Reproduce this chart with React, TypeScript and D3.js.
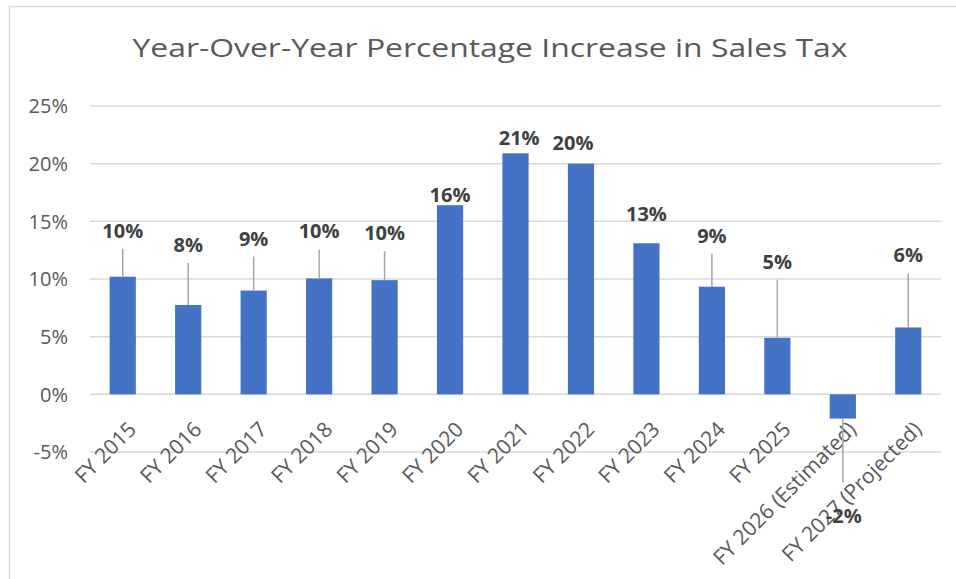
import React from "react";
import * as d3 from "d3";

const categories = [
  "FY 2015", "FY 2016", "FY 2017", "FY 2018", "FY 2019", "FY 2020", "FY 2021",
  "FY 2022", "FY 2023", "FY 2024", "FY 2025", "FY 2026 (Estimated)", "FY 2027 (Projected)",
];
const values = [10.2, 7.75, 9.0, 10.05, 9.9, 16.4, 20.9, 20.0, 13.1, 9.33, 4.9, -2.1, 5.8];
const valueLabels = ["10%", "8%", "9%", "10%", "10%", "16%", "21%", "20%", "13%", "9%", "5%", "-2%", "6%"];
const yTicks = [-5, 0, 5, 10, 15, 20, 25];
const title = "Year-Over-Year Percentage Increase in Sales Tax";

// label placement (manually moved data labels, in px relative to bar end)
const labelLift = [39, 53, 45, 40, 40, 3, 8.7, 14, 22, 44, 69, -104, 65];
const labelShift = [0, 0, 0, 0, 0, 0, 3.7, -8, 0, 0, 0, 1, 0];

const W = 956;
const H = 579;
const FONT = "'Open Sans', sans-serif";

export default function App() {
  const x = d3.scaleBand<string>().domain(categories).range([90, 941]).paddingInner(0.6).paddingOuter(0.3);
  const y = d3.scaleLinear().domain([-5, 25]).range([452, 106]);
  const y0 = y(0);

  return (
    <svg width={W} height={H} style={{ position: "absolute", left: 0, top: 0 }} fontFamily={FONT}>
      <rect x={0} y={0} width={W} height={H} fill="#fff" />
      <path d={`M9.5,${H} V6.5 H${W}`} fill="none" stroke="#d9d9d9" strokeWidth={1.5} />
      <text
        x={490}
        y={57}
        textAnchor="middle"
        fontSize={26}
        fill="#595959"
        textLength={715}
        lengthAdjust="spacingAndGlyphs"
      >
        {title}
      </text>

      {yTicks.map((t) => (
        <g key={t}>
          <line x1={90} x2={941} y1={y(t)} y2={y(t)} stroke="#d9d9d9" strokeWidth={1.5} />
          <text x={68} y={y(t)} dy="0.36em" textAnchor="end" fontSize={20} fill="#595959">{`${t}%`}</text>
        </g>
      ))}

      {categories.map((c, i) => {
        const v = values[i];
        const bx = x(c)!;
        const top = Math.min(y(v), y0);
        const h = Math.abs(y(v) - y0);
        return <rect key={c} x={bx} y={top} width={x.bandwidth()} height={h} fill="#4472C4" />;
      })}

      {categories.map((c, i) => {
        const cx = x(c)! + x.bandwidth() / 2;
        return (
          <text
            key={c}
            transform={`translate(${cx + 4},${420}) rotate(-45)`}
            dy="0.72em"
            textAnchor="end"
            fontSize={21}
            fill="#595959"
          >
            {c}
          </text>
        );
      })}

      {categories.map((c, i) => {
        const v = values[i];
        const cx = x(c)! + x.bandwidth() / 2;
        const end = y(v);
        const lift = labelLift[i];
        const lx = cx + labelShift[i];
        const base = end - lift;
        if (v >= 0) {
          return (
            <g key={c}>
              {lift > 30 && (
                <line x1={cx} x2={cx} y1={base + 11} y2={end} stroke="#a6a6a6" strokeWidth={1.5} />
              )}
              <text x={lx} y={base} textAnchor="middle" fontSize={20} fontWeight="bold" fill="#404040">
                {valueLabels[i]}
              </text>
            </g>
          );
        }
        return (
          <g key={c}>
            <line x1={cx} x2={cx} y1={end} y2={base - 40} stroke="#a6a6a6" strokeWidth={1.5} />
            <text x={lx} y={base} textAnchor="middle" fontSize={20} fontWeight="bold" fill="#404040">
              {valueLabels[i]}
            </text>
          </g>
        );
      })}
    </svg>
  );
}
